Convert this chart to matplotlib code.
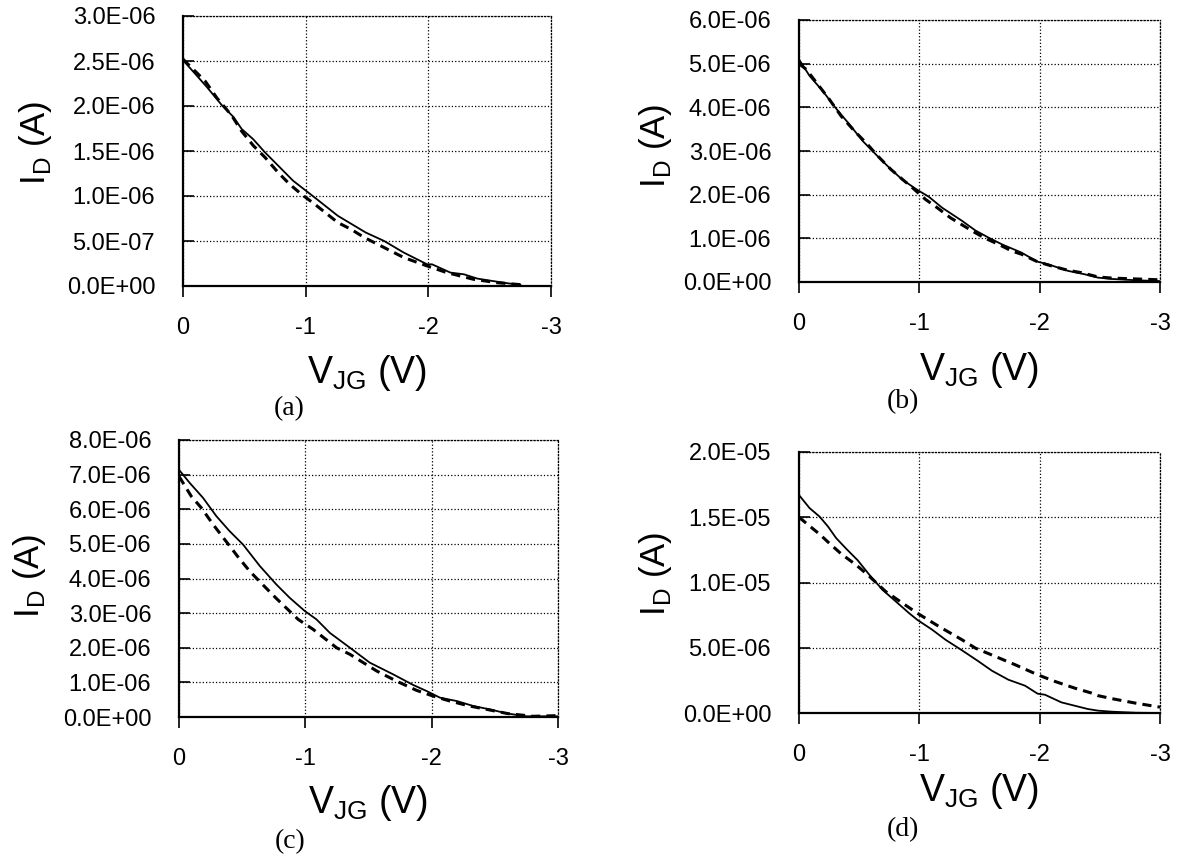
import matplotlib
matplotlib.use("Agg")
import matplotlib.pyplot as plt
from matplotlib.ticker import FuncFormatter

plt.rcParams['font.family'] = ['Liberation Sans', 'DejaVu Sans']
plt.rcParams['mathtext.fontset'] = 'custom'
plt.rcParams['mathtext.rm'] = 'Liberation Sans'
plt.rcParams['axes.unicode_minus'] = False

# (a) solid = measured, dashed = model ; V_JG in volts (magnitude), I_D in uA
va_solid = [0, 0.195, 0.316, 0.41, 0.478, 0.573, 0.668, 0.776, 0.897, 1.073, 1.262, 1.49, 1.64, 1.80, 1.99, 2.03, 2.18, 2.29, 2.40, 2.56, 2.67, 2.75]
ia_solid = [2.51, 2.21, 2.01, 1.88, 1.745, 1.63, 1.485, 1.337, 1.17, 0.984, 0.78, 0.594, 0.50, 0.371, 0.241, 0.241, 0.149, 0.13, 0.082, 0.048, 0.026, 0.015]
va_dash = [0, 0.181, 0.276, 0.397, 0.478, 0.573, 0.668, 0.776, 0.87, 0.965, 1.073, 1.262, 1.37, 1.476, 1.64, 1.80, 1.99, 2.15, 2.37, 2.56, 2.75]
ia_dash = [2.52, 2.276, 2.09, 1.894, 1.72, 1.56, 1.43, 1.26, 1.13, 1.02, 0.91, 0.705, 0.63, 0.54, 0.427, 0.316, 0.223, 0.149, 0.074, 0.037, 0.015]

# (b)
vb_solid = [0, 0.088, 0.198, 0.309, 0.419, 0.529, 0.639, 0.749, 0.86, 0.983, 1.08, 1.19, 1.355, 1.466, 1.576, 1.686, 1.85, 1.98, 2.07, 2.24, 2.375, 2.485, 2.6, 2.8, 3.0]
ib_solid = [5.1, 4.72, 4.37, 3.97, 3.61, 3.23, 2.92, 2.62, 2.34, 2.11, 1.95, 1.70, 1.40, 1.18, 1.015, 0.863, 0.672, 0.466, 0.405, 0.252, 0.176, 0.10, 0.07, 0.04, 0.02]
vb_dash = [0, 0.06, 0.253, 0.35, 0.46, 0.57, 0.653, 0.763, 0.86, 0.942, 1.052, 1.149, 1.259, 1.438, 1.548, 1.658, 1.768, 1.851, 1.98, 2.10, 2.237, 2.347, 2.485, 2.6, 2.8, 3.0]
ib_dash = [5.0, 4.87, 4.18, 3.80, 3.46, 3.15, 2.89, 2.58, 2.35, 2.16, 1.89, 1.70, 1.47, 1.17, 1.0, 0.863, 0.71, 0.634, 0.466, 0.366, 0.267, 0.214, 0.115, 0.09, 0.07, 0.05]

# (c)
vc_solid = [0, 0.085, 0.19, 0.296, 0.40, 0.507, 0.64, 0.77, 0.877, 0.996, 1.088, 1.194, 1.353, 1.51, 1.696, 1.855, 1.96, 2.066, 2.20, 2.33, 2.46, 2.6, 2.75, 3.0]
ic_solid = [7.14, 6.76, 6.33, 5.80, 5.37, 4.98, 4.36, 3.83, 3.44, 3.06, 2.82, 2.43, 2.0, 1.57, 1.23, 0.923, 0.75, 0.558, 0.46, 0.317, 0.22, 0.1, 0.02, 0.02]
vc_dash = [0, 0.098, 0.177, 0.27, 0.468, 0.56, 0.666, 0.766, 0.943, 1.062, 1.247, 1.353, 1.564, 1.72, 1.88, 2.01, 2.145, 2.30, 2.436, 2.6, 2.8, 3.0]
ic_dash = [6.95, 6.37, 6.04, 5.56, 4.62, 4.21, 3.81, 3.44, 2.82, 2.53, 2.0, 1.81, 1.33, 1.04, 0.77, 0.606, 0.46, 0.317, 0.22, 0.1, 0.02, 0.04]

# (d)
vd_solid = [0, 0.088, 0.171, 0.24, 0.309, 0.391, 0.488, 0.584, 0.694, 0.804, 0.915, 0.983, 1.107, 1.218, 1.355, 1.493, 1.603, 1.74, 1.879, 1.983, 2.044, 2.18, 2.29, 2.40, 2.485, 2.6, 2.8, 3.0]
id_solid = [16.7, 15.7, 15.05, 14.3, 13.4, 12.6, 11.7, 10.6, 9.44, 8.55, 7.65, 7.14, 6.38, 5.61, 4.80, 3.95, 3.24, 2.55, 2.09, 1.48, 1.40, 0.816, 0.56, 0.306, 0.18, 0.1, 0.02, 0.0]
vd_dash = [0, 0.171, 0.253, 0.35, 0.474, 0.57, 0.72, 0.86, 0.983, 1.163, 1.355, 1.466, 1.63, 1.796, 1.983, 2.127, 2.29, 2.43, 2.485, 2.6, 2.8, 3.0]
id_dash = [15.0, 13.7, 13.0, 12.2, 11.35, 10.6, 9.31, 8.42, 7.65, 6.63, 5.61, 4.97, 4.34, 3.70, 2.93, 2.42, 1.91, 1.53, 1.33, 1.1, 0.75, 0.45]

panels = [
    ("(a)", va_solid, ia_solid, va_dash, ia_dash, 3.0e-6, 0.5e-6),
    ("(b)", vb_solid, ib_solid, vb_dash, ib_dash, 6.0e-6, 1.0e-6),
    ("(c)", vc_solid, ic_solid, vc_dash, ic_dash, 8.0e-6, 1.0e-6),
    ("(d)", vd_solid, id_solid, vd_dash, id_dash, 2.0e-5, 5.0e-6),
]

W, H = 1191, 861
# axes boxes in pixels: left, top, right, bottom
boxes = [(183, 16, 551, 286), (799, 20, 1160, 282), (179, 440, 558, 717), (799, 452, 1160, 713)]
ylab_pos = [(36, 143), (655, 146), (30, 576), (655, 574)]
xlab_y = [373, 370, 803, 791]
cap_pos = [(289, 409), (903, 402), (290, 842), (903, 830)]

fig = plt.figure(figsize=(W / 100, H / 100), dpi=100)

for i, (cap, vs, is_, vd, id_, ymax, ystep) in enumerate(panels):
    l, t, r, b = boxes[i]
    ax = fig.add_axes([l / W, 1 - b / H, (r - l) / W, (b - t) / H])
    ax.plot([-v for v in vs], [v * 1e-6 for v in is_], color='black', lw=1.3)
    ax.plot([-v for v in vd], [v * 1e-6 for v in id_], color='black', lw=2.2, linestyle=(0, (3, 2)))
    ax.set_xlim(0, -3)
    ax.set_ylim(0, ymax)
    ax.set_xticks([0, -1, -2, -3])
    ax.set_xticklabels(['0', '-1', '-2', '-3'])
    n = int(round(ymax / ystep))
    ax.set_yticks([k * ystep for k in range(n + 1)])
    ax.yaxis.set_major_formatter(FuncFormatter(lambda v, p: f"{v:.1E}"))
    ax.grid(True, color='black', linestyle=':', linewidth=0.9)
    for s in ['top', 'right']:
        ax.spines[s].set_linestyle(':')
        ax.spines[s].set_linewidth(0.9)
    ax.spines['left'].set_linewidth(1.6)
    ax.spines['bottom'].set_linewidth(1.6)
    ax.tick_params(axis='y', direction='in', length=8, width=1.2, labelsize=17, pad=20)
    ax.tick_params(axis='x', direction='out', length=8, width=1.2, labelsize=17, pad=14)
    ax.tick_params(top=False, right=False)

    fig.text(ylab_pos[i][0] / W, 1 - ylab_pos[i][1] / H, r'I$_{\mathrm{D}}$ (A)', rotation=90,
             fontsize=25, ha='center', va='center')
    fig.text((l + r) / 2 / W, 1 - xlab_y[i] / H, r'V$_{\mathrm{JG}}$ (V)',
             fontsize=27, ha='center', va='center')
    fig.text(cap_pos[i][0] / W, 1 - cap_pos[i][1] / H, cap, family='Liberation Serif',
             fontsize=20, ha='center', va='center')

fig.savefig('out.png', dpi=100)
